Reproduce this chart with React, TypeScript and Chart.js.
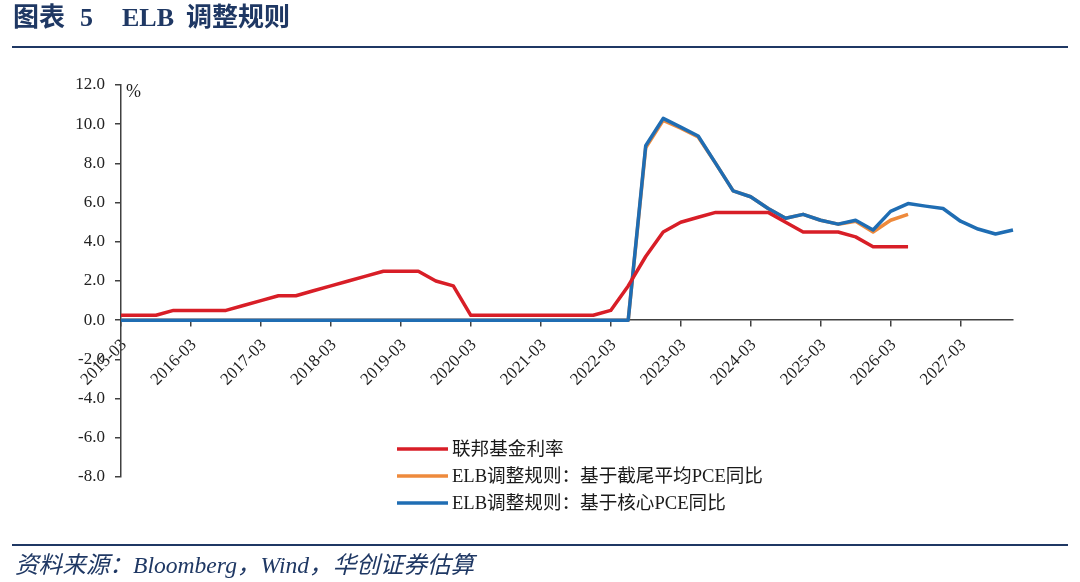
import { useEffect, useRef } from 'react';
import { Chart, registerables } from 'chart.js';

Chart.register(...registerables);

const categories = [
  '2015-03', '2015-06', '2015-09', '2015-12',
  '2016-03', '2016-06', '2016-09', '2016-12',
  '2017-03', '2017-06', '2017-09', '2017-12',
  '2018-03', '2018-06', '2018-09', '2018-12',
  '2019-03', '2019-06', '2019-09', '2019-12',
  '2020-03', '2020-06', '2020-09', '2020-12',
  '2021-03', '2021-06', '2021-09', '2021-12',
  '2022-03', '2022-06', '2022-09', '2022-12',
  '2023-03', '2023-06', '2023-09', '2023-12',
  '2024-03', '2024-06', '2024-09', '2024-12',
  '2025-03', '2025-06', '2025-09', '2025-12',
  '2026-03', '2026-06', '2026-09', '2026-12',
  '2027-03', '2027-06', '2027-09', '2027-12',
];

const fedFundsRate = [
  0.25, 0.25, 0.25, 0.5,
  0.5, 0.5, 0.5, 0.75,
  1.0, 1.25, 1.25, 1.5,
  1.75, 2.0, 2.25, 2.5,
  2.5, 2.5, 2.0, 1.75,
  0.25, 0.25, 0.25, 0.25,
  0.25, 0.25, 0.25, 0.25,
  0.5, 1.75, 3.25, 4.5,
  5.0, 5.25, 5.5, 5.5,
  5.5, 5.5, 5.0, 4.5,
  4.5, 4.5, 4.25, 3.75,
  3.75, 3.75, null, null,
  null, null, null, null,
];

const elbTrimmedMeanPce = [
  0, 0, 0, 0,
  0, 0, 0, 0,
  0, 0, 0, 0,
  0, 0, 0, 0,
  0, 0, 0, 0,
  0, 0, 0, 0,
  0, 0, 0, 0,
  0, 0, 8.8, 10.2,
  9.8, 9.35, 8.0, 6.6,
  6.3, 5.7, 5.2, 5.4,
  5.1, 4.9, 5.05, 4.5,
  5.1, 5.4, null, null,
  null, null, null, null,
];

const elbCorePce = [
  0, 0, 0, 0,
  0, 0, 0, 0,
  0, 0, 0, 0,
  0, 0, 0, 0,
  0, 0, 0, 0,
  0, 0, 0, 0,
  0, 0, 0, 0,
  0, 0, 8.9, 10.3,
  9.85, 9.4, 8.0, 6.6,
  6.3, 5.7, 5.2, 5.4,
  5.1, 4.9, 5.1, 4.6,
  5.55, 5.95, 5.82, 5.7,
  5.05, 4.65, 4.4, 4.6,
];

const seriesNames = [
  '联邦基金利率',
  'ELB调整规则：基于截尾平均PCE同比',
  'ELB调整规则：基于核心PCE同比',
];
const seriesColors = ['#D81E27', '#EE8A3C', '#1F6DB3'];

const yMin = -8;
const yMax = 12;
const yStep = 2;

const SERIF = '"Liberation Serif", "Noto Sans CJK SC", serif';
const NAVY = '#1F3864';
const AXIS = '#404040';

const overlayPlugin = {
  id: 'overlayLegend',
  afterDraw(chart: any) {
    const { ctx, chartArea } = chart;
    ctx.save();
    // unit label
    ctx.fillStyle = '#222';
    ctx.font = '18px ' + SERIF;
    ctx.textAlign = 'left';
    ctx.textBaseline = 'middle';
    ctx.fillText('%', chartArea.left + 5, chartArea.top + 7);
    // legend
    const x0 = 397;
    const y0 = 449;
    const gap = 27;
    chart.data.datasets.forEach((ds: any, i: number) => {
      const y = y0 + i * gap;
      ctx.strokeStyle = ds.borderColor;
      ctx.lineWidth = 3.5;
      ctx.lineCap = 'butt';
      ctx.beginPath();
      ctx.moveTo(x0, y);
      ctx.lineTo(x0 + 51, y);
      ctx.stroke();
      ctx.fillStyle = '#1a1a1a';
      ctx.font = '18.6px ' + SERIF;
      ctx.textBaseline = 'middle';
      ctx.fillText(ds.label, x0 + 55, y + 1);
    });
    ctx.restore();
  },
};

export default function App() {
  const canvasRef = useRef<HTMLCanvasElement | null>(null);

  useEffect(() => {
    if (!canvasRef.current) return;
    const chart = new Chart(canvasRef.current, {
      type: 'line',
      data: {
        labels: categories,
        datasets: [
          {
            label: seriesNames[0],
            data: fedFundsRate,
            borderColor: seriesColors[0],
            backgroundColor: seriesColors[0],
            order: 0,
          },
          {
            label: seriesNames[1],
            data: elbTrimmedMeanPce,
            borderColor: seriesColors[1],
            backgroundColor: seriesColors[1],
            order: 2,
          },
          {
            label: seriesNames[2],
            data: elbCorePce,
            borderColor: seriesColors[2],
            backgroundColor: seriesColors[2],
            order: 1,
          },
        ],
      },
      options: {
        animation: false,
        responsive: false,
        devicePixelRatio: window.devicePixelRatio || 1,
        layout: { padding: { left: 0, top: 85, right: 67, bottom: 105 } },
        elements: {
          line: { borderWidth: 3.5, tension: 0, borderJoinStyle: 'round', borderCapStyle: 'butt' },
          point: { radius: 0, hoverRadius: 0 },
        },
        plugins: {
          legend: { display: false },
          tooltip: { enabled: false },
          title: { display: false },
        },
        scales: {
          x: {
            type: 'category',
            position: { y: 0 } as any,
            offset: false,
            grid: {
              display: true,
              drawOnChartArea: false,
              drawTicks: true,
              tickLength: 6,
              lineWidth: 1.5,
              tickColor: (ctx: any) => (ctx.index % 4 === 0 ? AXIS : 'rgba(0,0,0,0)'),
            },
            border: { display: true, color: AXIS, width: 1.5 },
            ticks: {
              autoSkip: false,
              minRotation: 45,
              maxRotation: 45,
              padding: 9,
              labelOffset: 3,
              color: '#222',
              font: { family: SERIF, size: 17 },
              callback: (_v: any, i: number) => (i % 4 === 0 ? categories[i] : ''),
            },
          },
          y: {
            type: 'linear',
            position: 'left',
            min: yMin,
            max: yMax,
            afterFit: (scale: any) => {
              scale.width = 121;
            },
            grid: {
              display: true,
              drawOnChartArea: false,
              drawTicks: true,
              tickLength: 6,
              lineWidth: 1.5,
              color: AXIS,
            },
            border: { display: true, color: AXIS, width: 1.5 },
            ticks: {
              stepSize: yStep,
              padding: 10,
              color: '#222',
              font: { family: SERIF, size: 17 },
              callback: (v: any) => Number(v).toFixed(1),
            },
          },
        },
      },
      plugins: [overlayPlugin],
    });
    return () => chart.destroy();
  }, []);

  const titleStyle: any = {
    position: 'absolute',
    top: 5,
    fontFamily: SERIF,
    fontWeight: 'bold',
    fontSize: 26,
    lineHeight: '26px',
    color: NAVY,
    whiteSpace: 'nowrap',
  };

  return (
    <div
      style={{
        position: 'fixed',
        left: 0,
        top: 0,
        width: 1080,
        height: 582,
        background: '#fff',
        overflow: 'hidden',
      }}
    >
      <canvas
        ref={canvasRef}
        width={1080}
        height={582}
        style={{ position: 'absolute', left: 0, top: 0, width: 1080, height: 582 }}
      />
      <div style={{ ...titleStyle, left: 13 }}>图表</div>
      <div style={{ ...titleStyle, left: 80 }}>5</div>
      <div style={{ ...titleStyle, left: 122 }}>ELB</div>
      <div style={{ ...titleStyle, left: 186 }}>调整规则</div>
      <div style={{ position: 'absolute', left: 12, top: 46, width: 1056, height: 2, background: NAVY }} />
      <div style={{ position: 'absolute', left: 12, top: 544, width: 1056, height: 2, background: NAVY }} />
      <div
        style={{
          position: 'absolute',
          left: 15,
          top: 554,
          fontFamily: SERIF,
          fontStyle: 'italic',
          fontSize: 23.6,
          lineHeight: '23px',
          color: NAVY,
          whiteSpace: 'nowrap',
        }}
      >
        资料来源：Bloomberg，Wind，华创证券估算
      </div>
    </div>
  );
}
